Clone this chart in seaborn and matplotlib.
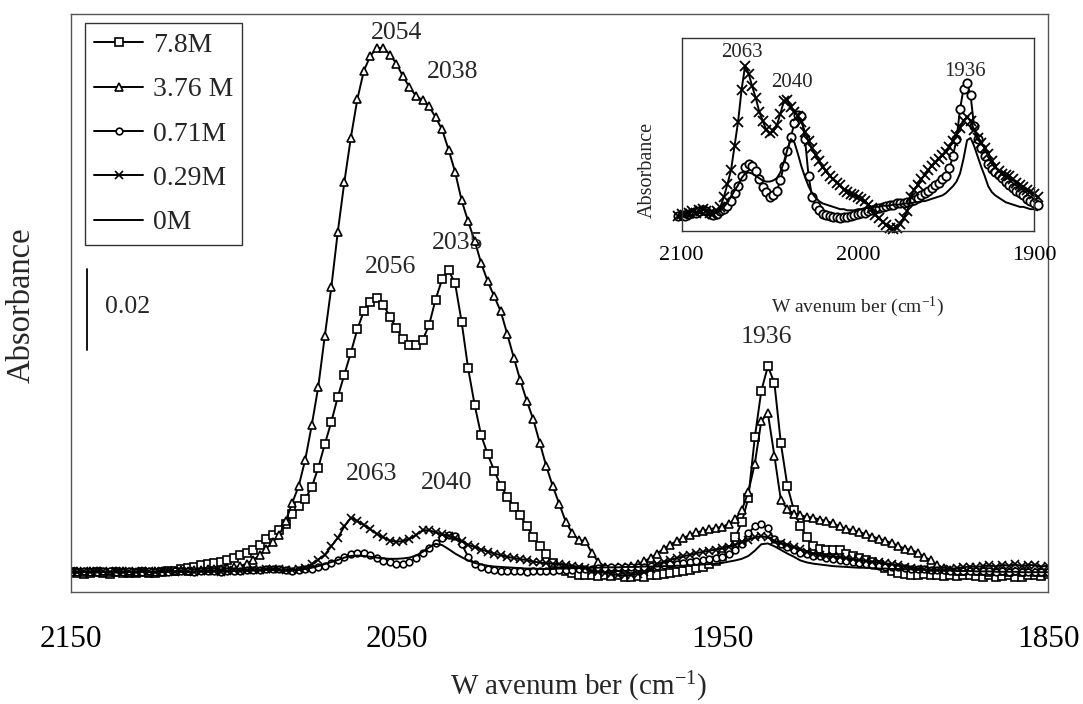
import numpy as np
import matplotlib
matplotlib.use("Agg")
import matplotlib.pyplot as plt
import seaborn as sns
from matplotlib.lines import Line2D

# ---------------- data ----------------
# wavenumber grid (cm-1), 2 cm-1 step from 2150 down to 1850
wavenumber = np.arange(2150, 1849, -2)

# absorbance values in milli-absorbance units
abs_7p8M = [
    0.2, 0.0, -0.2, 0.1, 0.3, 0.0, -0.2, 0.2, 0.0, -0.1,
    0.0, 0.2, -0.1, 0.1, 0.3, 0.5, 0.6, 0.9, 1.2, 1.6,
    1.9, 2.1, 2.4, 2.7, 3.2, 3.8, 4.4, 5.0, 5.8, 6.8,
    8.3, 9.5, 10.7, 12.2, 14.6, 16.5, 18.3, 21.2, 26.0, 31.8,
    37.3, 43.5, 49.0, 54.4, 60.2, 64.7, 67.0, 67.8, 66.2, 63.2,
    60.4, 57.7, 56.3, 56.3, 57.4, 61.2, 67.5, 72.5, 74.7, 71.5,
    62.0, 50.5, 41.5, 34.0, 29.3, 25.3, 21.6, 18.8, 16.4, 14.2,
    11.6, 8.9, 6.7, 4.6, 2.4, 1.2, 0.4, 0.0, -0.4, -0.5,
    -0.5, -0.7, -0.5, -0.8, -0.6, -0.9, -1.0, -0.7, -0.9, -0.5,
    -0.4, -0.2, 0.0, 0.3, 0.4, 0.8, 1.2, 1.6, 2.2, 3.0,
    4.2, 5.8, 8.8, 12.5, 18.5, 33.5, 45.0, 51.0, 47.0, 32.0,
    21.5, 15.5, 11.5, 8.9, 6.6, 6.0, 5.8, 5.7, 5.7, 4.8,
    4.2, 3.8, 3.3, 2.8, 2.0, 1.3, 0.6, 0.0, -0.2, -0.4,
    -0.5, -0.3, -0.6, -0.4, -0.7, -0.5, -0.8, -0.6, -0.4, -0.7,
    -0.9, -0.6, -1.1, -0.8, -0.5, -0.9, -1.0, -0.6, -0.5, -0.8,
    -0.3,
]

abs_3p76M = [
    0.3, 0.5, 0.2, 0.4, 0.6, 0.3, 0.2, 0.5, 0.4, 0.3,
    0.2, 0.4, 0.3, 0.5, 0.6, 0.4, 0.5, 0.7, 0.6, 0.8,
    0.8, 0.9, 1.0, 1.1, 1.2, 1.4, 1.7, 2.3, 3.2, 4.4,
    6.0, 7.6, 9.3, 12.8, 17.3, 21.5, 28.0, 36.5, 46.0, 58.5,
    70.5, 84.3, 96.5, 107.5, 117.0, 124.0, 127.7, 129.6, 129.6, 128.0,
    125.7, 122.6, 119.9, 117.8, 116.7, 115.2, 112.5, 109.5, 104.5, 99.0,
    92.0, 86.8, 82.0, 76.5, 72.0, 68.3, 64.6, 59.0, 53.2, 47.6,
    42.5, 37.9, 32.1, 26.3, 21.4, 17.0, 12.6, 9.8, 8.1, 7.9,
    4.9, 2.7, 1.6, 1.3, 1.4, 1.6, 1.8, 2.2, 2.9, 3.7,
    4.8, 6.0, 7.0, 7.9, 8.6, 9.4, 10.0, 10.4, 10.8, 11.1,
    11.4, 12.1, 13.3, 15.5, 20.0, 27.0, 37.5, 39.5, 29.0, 18.0,
    15.8, 14.6, 14.2, 13.9, 13.6, 13.2, 12.8, 12.3, 11.5, 10.9,
    10.6, 10.1, 9.6, 9.0, 8.5, 8.0, 7.4, 6.7, 6.0, 5.7,
    5.0, 4.0, 3.1, 2.0, 1.2, 0.8, 0.6, 0.5, 0.7, 0.4,
    0.5, 0.3, 0.6, 0.4, 0.2, 0.5, 0.3, 0.4, 0.2, 0.3,
    0.3,
]

abs_0p71M = [
    0.3, 0.2, 0.4, 0.3, 0.2, 0.4, 0.5, 0.3, 0.2, 0.4,
    0.3, 0.2, 0.4, 0.3, 0.2, 0.3, 0.4, 0.5, 0.4, 0.3,
    0.4, 0.5, 0.4, 0.3, 0.5, 0.6, 0.5, 0.7, 0.8, 0.8,
    0.9, 1.0, 0.9, 0.7, 0.6, 0.7, 0.9, 1.1, 1.4, 1.8,
    2.5, 3.1, 4.0, 4.8, 5.0, 4.9, 4.4, 3.7, 3.0, 2.6,
    2.2, 2.3, 2.7, 3.6, 4.9, 6.2, 7.4, 8.6, 9.3, 9.2,
    7.2, 4.0, 2.2, 1.4, 1.0, 0.7, 0.6, 0.5, 0.4, 0.4,
    0.3, 0.4, 0.4, 0.5, 0.6, 0.7, 0.8, 0.8, 0.9, 1.0,
    1.1, 1.2, 1.3, 1.4, 1.5, 1.5, 1.6, 1.6, 1.6, 1.7,
    1.8, 1.9, 2.1, 2.3, 2.5, 2.7, 2.9, 3.2, 3.4, 3.7,
    4.0, 4.7, 5.7, 7.2, 9.8, 11.6, 12.1, 11.0, 8.3, 7.2,
    6.4, 5.7, 5.0, 4.6, 4.3, 4.1, 3.8, 3.5, 3.2, 2.9,
    2.7, 2.5, 2.3, 2.0, 1.8, 1.6, 1.5, 1.4, 1.2, 1.1,
    1.0, 0.9, 0.8, 0.8, 0.7, 0.6, 0.6, 0.5, 0.5, 0.4,
    0.4, 0.5, 0.3, 0.4, 0.3, 0.4, 0.3, 0.2, 0.3, 0.3,
    0.3,
]

abs_0p29M = [
    0.4, 0.2, 0.5, 0.3, 0.6, 0.4, 0.3, 0.5, 0.2, 0.4,
    0.3, 0.5, 0.4, 0.2, 0.4, 0.6, 0.3, 0.5, 0.4, 0.3,
    0.4, 0.6, 0.5, 0.3, 0.5, 0.7, 0.6, 0.8, 0.9, 0.8,
    1.0, 1.1, 0.9, 0.8, 0.7, 0.9, 1.3, 2.2, 3.3, 4.5,
    6.6, 8.7, 11.5, 13.6, 12.9, 11.8, 10.8, 9.6, 8.8, 8.0,
    7.7, 7.9, 8.4, 9.4, 10.5, 10.6, 10.0, 9.6, 9.2, 8.7,
    7.8, 7.0, 6.4, 5.8, 5.3, 4.8, 4.4, 4.0, 3.7, 3.4,
    3.2, 2.8, 2.6, 2.4, 2.3, 2.2, 2.0, 1.8, 1.5, 1.2,
    0.6, 0.3, 0.0, -0.3, -0.5, -0.6, -0.5, -0.2, 0.3, 0.9,
    2.2, 2.8, 3.2, 3.7, 4.1, 4.5, 4.9, 5.2, 5.5, 5.8,
    6.1, 6.5, 7.0, 7.6, 8.2, 8.8, 9.1, 8.8, 8.0, 7.3,
    6.9, 6.4, 5.9, 5.3, 4.8, 4.4, 4.2, 4.1, 4.0, 3.7,
    3.4, 3.2, 3.0, 2.8, 2.6, 2.4, 2.2, 1.9, 1.6, 1.3,
    1.1, 0.9, 0.8, 0.7, 0.8, 1.0, 1.2, 1.4, 1.6, 1.5,
    1.7, 1.9, 1.6, 2.0, 1.8, 2.1, 1.7, 2.0, 1.9, 1.6,
    1.8,
]

abs_0M = [
    0.2, 0.1, 0.3, 0.2, 0.1, 0.3, 0.2, 0.1, 0.2, 0.3,
    0.2, 0.3, 0.2, 0.1, 0.2, 0.3, 0.4, 0.3, 0.2, 0.3,
    0.4, 0.3, 0.4, 0.5, 0.4, 0.5, 0.6, 0.5, 0.6, 0.7,
    0.8, 0.7, 0.6, 0.6, 0.7, 0.8, 1.0, 1.3, 1.7, 2.2,
    2.7, 3.2, 3.8, 4.2, 4.3, 4.2, 4.0, 3.8, 3.6, 3.5,
    3.5, 3.6, 3.8, 4.3, 5.2, 6.3, 7.2, 6.9, 5.9, 4.8,
    3.9, 3.1, 2.5, 2.1, 1.8, 1.6, 1.5, 1.4, 1.3, 1.2,
    1.1, 1.1, 1.0, 1.0, 1.0, 1.1, 1.1, 1.2, 1.2, 1.3,
    1.3, 1.3, 1.4, 1.4, 1.4, 1.5, 1.5, 1.5, 1.6, 1.6,
    1.6, 1.7, 1.7, 1.8, 1.8, 1.9, 2.0, 2.1, 2.2, 2.3,
    2.5, 2.8, 3.1, 3.5, 4.2, 5.5, 7.1, 7.3, 6.6, 5.7,
    4.8, 4.0, 3.1, 2.6, 2.3, 2.1, 1.9, 1.7, 1.6, 1.5,
    1.4, 1.3, 1.3, 1.2, 1.1, 1.1, 1.0, 1.0, 0.9, 0.9,
    0.8, 0.8, 0.7, 0.7, 0.6, 0.6, 0.5, 0.5, 0.5, 0.4,
    0.4, 0.4, 0.3, 0.3, 0.3, 0.3, 0.2, 0.2, 0.2, 0.2,
    0.2,
]

series_labels = ["7.8M", "3.76 M", "0.71M", "0.29M", "0M"]
series_values = [abs_7p8M, abs_3p76M, abs_0p71M, abs_0p29M, abs_0M]
series_markers = ["s", "^", "o", "x", None]
series_msize = [5.6, 5.6, 4.8, 6.0, 0]

main_ticks = [2150, 2050, 1950, 1850]
inset_ticks = [2100, 2000, 1900]

main_peaks = [("2054", 2050.0, 133.3), ("2038", 2032.7, 123.7),
              ("2056", 2051.9, 75.6), ("2035", 2031.1, 81.4),
              ("2063", 2057.6, 24.4), ("2040", 2034.5, 22.1),
              ("1936", 1936.5, 58.3)]
inset_peaks = [("2063", 2065.9, 14.7), ("2040", 2037.6, 12.1),
               ("1936", 1939.2, 13.1)]

# ---------------- style ----------------
sns.set_theme(style="white")
plt.rcParams["font.family"] = ["Liberation Serif", "DejaVu Serif"]
plt.rcParams["mathtext.fontset"] = "custom"
plt.rcParams["mathtext.rm"] = "Liberation Serif"
plt.rcParams["mathtext.it"] = "Liberation Serif:italic"

W, H = 1083, 704
fig = plt.figure(figsize=(W / 100, H / 100), dpi=100)
fig.patch.set_facecolor("white")

def px_axes(x0, y0, x1, y1):
    return [x0 / W, 1 - y1 / H, (x1 - x0) / W, (y1 - y0) / H]

ax = fig.add_axes(px_axes(70.7, 14, 1048, 592))
axin = fig.add_axes(px_axes(681.7, 38, 1034, 231))

# ---------------- main plot ----------------
handles = []
for lab, vals, mk, ms in zip(series_labels, series_values, series_markers, series_msize):
    y = np.asarray(vals) / 1000.0
    kw = dict(color="black", linewidth=1.4)
    if mk is not None:
        kw.update(marker=mk, markersize=ms, markerfacecolor="white",
                  markeredgecolor="black", markeredgewidth=1.2)
    sns.lineplot(x=wavenumber, y=y, ax=ax, sort=False, legend=False, **kw)
    handles.append(Line2D([], [], label=lab, **kw))

ax.set_xlim(2150, 1850)
ax.set_ylim(-4.69 / 1000, 138.0 / 1000)
ax.set_xticks(main_ticks)
ax.set_xticklabels([str(t) for t in main_ticks])
ax.set_yticks([])
ax.tick_params(axis="x", direction="in", length=6, width=1, color="#444444",
               pad=24, labelsize=22.5, colors="black")
for s in ax.spines.values():
    s.set_color("#555555")
    s.set_linewidth(1.0)

ax.set_xlabel("W avenum ber (cm$^{-1}$)", fontsize=21)
ax.xaxis.set_label_coords(0.52, -0.134)
ax.set_ylabel("Absorbance", fontsize=23.5)
ax.yaxis.set_label_coords(-0.035, 0.4965)

for txt, xw, ym in main_peaks:
    ax.text(xw, ym / 1000, txt, fontsize=18.5, ha="center", va="center")

# scale bar (0.02 absorbance)
ax.plot([2145, 2145], [0.055, 0.075], color="black", linewidth=1.3)
ax.text(2139.5, 0.0657, "0.02", fontsize=18.5, ha="left", va="center")

leg = ax.legend(handles=handles, loc="upper left", bbox_to_anchor=(0.0146, 0.9844),
                borderaxespad=0, fontsize=20, frameon=True, fancybox=False,
                edgecolor="#333333", framealpha=1, handlelength=1.75,
                handletextpad=0.35, labelspacing=0.68, borderpad=0.34)
leg.get_frame().set_linewidth(1.0)

# ---------------- inset ----------------
axin.set_facecolor("white")
mask = (wavenumber <= 2102) & (wavenumber >= 1898)
for lab, vals, mk, ms in zip(series_labels[2:], series_values[2:],
                             series_markers[2:], series_msize[2:]):
    y = np.asarray(vals)[mask]
    kw = dict(color="black", linewidth=1.4)
    if mk is not None:
        kw.update(marker=mk, markersize=ms * 1.25, markerfacecolor="white",
                  markeredgecolor="black", markeredgewidth=1.3)
    sns.lineplot(x=wavenumber[mask], y=y, ax=axin, sort=False, legend=False,
                 clip_on=False, **kw)

axin.set_xlim(2100, 1900)
axin.set_ylim(-0.8, 16.0)
axin.set_xticks(inset_ticks)
axin.set_xticklabels([str(t) for t in inset_ticks])
axin.set_yticks([])
axin.tick_params(axis="x", direction="in", length=3, width=1, pad=11,
                 labelsize=16, colors="black")
for s in axin.spines.values():
    s.set_color("#333333")
    s.set_linewidth(1.0)
axin.set_xlabel("W avenum ber (cm$^{-1}$)", fontsize=14)
axin.xaxis.set_label_coords(0.5, -0.33)
axin.set_ylabel("Absorbance", fontsize=14.5)
axin.yaxis.set_label_coords(-0.07, 0.316)
for txt, xw, yv in inset_peaks:
    axin.text(xw, yv, txt, fontsize=15, ha="center", va="center")

fig.savefig("out.png", dpi=100, facecolor="white")
